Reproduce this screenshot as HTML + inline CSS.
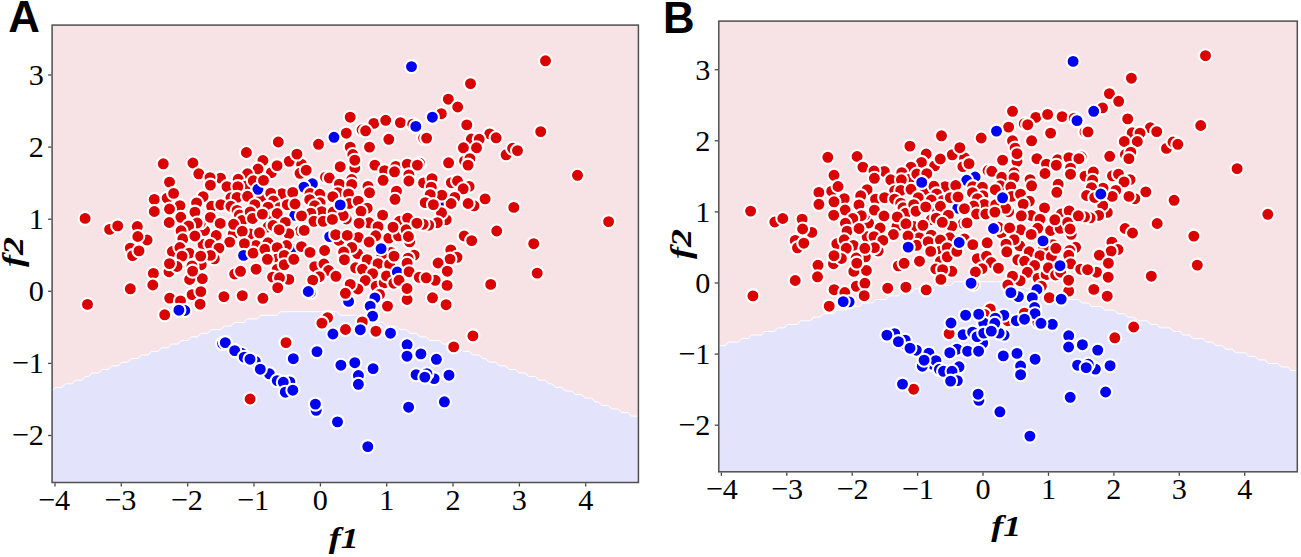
<!DOCTYPE html>
<html><head><meta charset="utf-8"><title>Figure</title>
<style>html,body{margin:0;padding:0;background:#fff}svg{display:block}</style></head>
<body><svg width="1301" height="557" viewBox="0 0 1301 557">
<rect width="1301" height="557" fill="#fff"/>
<clipPath id="cA"><rect x="51.4" y="24.3" width="587.8" height="458.9"/></clipPath>
<g clip-path="url(#cA)">
<rect x="51.4" y="24.3" width="587.8" height="458.9" fill="#f7e3e6"/>
<polygon points="52.2,391.0 55.5,387.4 62.1,387.4 65.4,383.8 72.1,383.8 75.4,380.2 82.0,380.2 85.3,376.6 88.6,376.6 91.9,373.0 98.5,373.0 101.9,369.4 108.5,369.4 111.8,365.8 118.4,365.8 121.7,362.2 128.3,362.2 131.6,358.6 138.3,358.6 141.6,355.0 148.2,355.0 151.5,351.4 158.1,351.4 161.4,347.8 168.1,347.8 171.4,344.1 178.0,344.1 181.3,340.5 187.9,340.5 191.2,336.9 197.8,336.9 201.2,333.3 207.8,333.3 211.1,329.7 221.0,329.7 224.3,326.1 230.9,326.1 234.3,322.5 244.2,322.5 247.5,318.9 257.4,318.9 260.7,315.3 277.3,315.3 280.6,311.7 336.9,311.7 340.2,315.3 356.7,315.3 360.0,318.9 370.0,318.9 373.3,322.5 383.2,322.5 386.5,326.1 396.4,326.1 399.8,329.7 406.4,329.7 409.7,333.3 416.3,333.3 419.6,336.9 426.2,336.9 429.5,340.5 439.5,340.5 442.8,344.1 449.4,344.1 452.7,347.8 459.3,347.8 462.6,351.4 469.3,351.4 472.6,355.0 479.2,355.0 482.5,358.6 485.8,358.6 489.1,362.2 495.7,362.2 499.1,365.8 505.7,365.8 509.0,369.4 515.6,369.4 518.9,373.0 525.5,373.0 528.8,376.6 535.5,376.6 538.8,380.2 545.4,380.2 548.7,383.8 552.0,383.8 555.3,387.4 561.9,387.4 565.2,391.0 571.9,391.0 575.2,394.6 581.8,394.6 585.1,398.2 591.7,398.2 595.0,401.8 598.3,401.8 601.7,405.4 608.3,405.4 611.6,409.0 618.2,409.0 621.5,412.6 628.1,412.6 631.4,416.2 638.1,416.2 641.4,419.9 641.4,483.2 50.2,483.2 50.2,391.0" fill="#e3e3fb"/>
<polyline points="52.2,391.0 55.5,387.4 62.1,387.4 65.4,383.8 72.1,383.8 75.4,380.2 82.0,380.2 85.3,376.6 88.6,376.6 91.9,373.0 98.5,373.0 101.9,369.4 108.5,369.4 111.8,365.8 118.4,365.8 121.7,362.2 128.3,362.2 131.6,358.6 138.3,358.6 141.6,355.0 148.2,355.0 151.5,351.4 158.1,351.4 161.4,347.8 168.1,347.8 171.4,344.1 178.0,344.1 181.3,340.5 187.9,340.5 191.2,336.9 197.8,336.9 201.2,333.3 207.8,333.3 211.1,329.7 221.0,329.7 224.3,326.1 230.9,326.1 234.3,322.5 244.2,322.5 247.5,318.9 257.4,318.9 260.7,315.3 277.3,315.3 280.6,311.7 336.9,311.7 340.2,315.3 356.7,315.3 360.0,318.9 370.0,318.9 373.3,322.5 383.2,322.5 386.5,326.1 396.4,326.1 399.8,329.7 406.4,329.7 409.7,333.3 416.3,333.3 419.6,336.9 426.2,336.9 429.5,340.5 439.5,340.5 442.8,344.1 449.4,344.1 452.7,347.8 459.3,347.8 462.6,351.4 469.3,351.4 472.6,355.0 479.2,355.0 482.5,358.6 485.8,358.6 489.1,362.2 495.7,362.2 499.1,365.8 505.7,365.8 509.0,369.4 515.6,369.4 518.9,373.0 525.5,373.0 528.8,376.6 535.5,376.6 538.8,380.2 545.4,380.2 548.7,383.8 552.0,383.8 555.3,387.4 561.9,387.4 565.2,391.0 571.9,391.0 575.2,394.6 581.8,394.6 585.1,398.2 591.7,398.2 595.0,401.8 598.3,401.8 601.7,405.4 608.3,405.4 611.6,409.0 618.2,409.0 621.5,412.6 628.1,412.6 631.4,416.2 638.1,416.2 641.4,419.9" fill="none" stroke="#fff" stroke-opacity="1" stroke-width="1"/>
<g stroke="#fff" stroke-width="2.1">
<circle cx="440.3" cy="202.1" r="6.5" fill="#0000f2"/>
<circle cx="294.8" cy="215.4" r="6.5" fill="#0000f2"/>
<circle cx="295.1" cy="249.4" r="6.5" fill="#0000f2"/>
<circle cx="411.5" cy="66.6" r="6.5" fill="#0000f2"/>
<circle cx="470.5" cy="83.6" r="6.5" fill="#db0000"/>
<circle cx="448.3" cy="99.2" r="6.5" fill="#db0000"/>
<circle cx="457.7" cy="107.0" r="6.5" fill="#db0000"/>
<circle cx="441.3" cy="113.7" r="6.5" fill="#db0000"/>
<circle cx="432.4" cy="117.2" r="6.5" fill="#0000f2"/>
<circle cx="350.2" cy="117.2" r="6.5" fill="#db0000"/>
<circle cx="373.8" cy="123.4" r="6.5" fill="#db0000"/>
<circle cx="385.7" cy="120.3" r="6.5" fill="#db0000"/>
<circle cx="400.4" cy="122.6" r="6.5" fill="#db0000"/>
<circle cx="412.7" cy="124.2" r="6.5" fill="#db0000"/>
<circle cx="466.8" cy="124.9" r="6.5" fill="#db0000"/>
<circle cx="415.8" cy="126.4" r="6.5" fill="#0000f2"/>
<circle cx="362.1" cy="129.8" r="6.5" fill="#db0000"/>
<circle cx="365.6" cy="130.8" r="6.5" fill="#db0000"/>
<circle cx="346.3" cy="133.2" r="6.5" fill="#db0000"/>
<circle cx="318.5" cy="144.3" r="6.5" fill="#db0000"/>
<circle cx="388.8" cy="139.3" r="6.5" fill="#db0000"/>
<circle cx="423.6" cy="138.1" r="6.5" fill="#db0000"/>
<circle cx="426.6" cy="138.1" r="6.5" fill="#db0000"/>
<circle cx="489.7" cy="133.9" r="6.5" fill="#db0000"/>
<circle cx="496.1" cy="137.8" r="6.5" fill="#db0000"/>
<circle cx="471.4" cy="139.0" r="6.5" fill="#db0000"/>
<circle cx="479.2" cy="139.3" r="6.5" fill="#db0000"/>
<circle cx="350.2" cy="147.1" r="6.5" fill="#db0000"/>
<circle cx="369.5" cy="147.1" r="6.5" fill="#db0000"/>
<circle cx="463.4" cy="147.8" r="6.5" fill="#db0000"/>
<circle cx="476.5" cy="147.8" r="6.5" fill="#db0000"/>
<circle cx="352.8" cy="154.5" r="6.5" fill="#db0000"/>
<circle cx="354.8" cy="167.9" r="6.5" fill="#db0000"/>
<circle cx="354.8" cy="160.2" r="6.5" fill="#db0000"/>
<circle cx="340.2" cy="166.7" r="6.5" fill="#db0000"/>
<circle cx="374.9" cy="165.1" r="6.5" fill="#db0000"/>
<circle cx="384.6" cy="170.7" r="6.5" fill="#db0000"/>
<circle cx="395.8" cy="166.4" r="6.5" fill="#db0000"/>
<circle cx="394.5" cy="171.8" r="6.5" fill="#db0000"/>
<circle cx="407.3" cy="164.1" r="6.5" fill="#db0000"/>
<circle cx="419.7" cy="163.3" r="6.5" fill="#db0000"/>
<circle cx="417.4" cy="165.1" r="6.5" fill="#db0000"/>
<circle cx="448.6" cy="162.8" r="6.5" fill="#db0000"/>
<circle cx="464.5" cy="161.0" r="6.5" fill="#db0000"/>
<circle cx="469.9" cy="158.6" r="6.5" fill="#db0000"/>
<circle cx="468.0" cy="165.1" r="6.5" fill="#db0000"/>
<circle cx="301.5" cy="164.1" r="6.5" fill="#db0000"/>
<circle cx="300.0" cy="173.3" r="6.5" fill="#db0000"/>
<circle cx="306.2" cy="170.2" r="6.5" fill="#db0000"/>
<circle cx="325.5" cy="177.2" r="6.5" fill="#db0000"/>
<circle cx="329.3" cy="178.0" r="6.5" fill="#db0000"/>
<circle cx="339.4" cy="184.1" r="6.5" fill="#db0000"/>
<circle cx="351.7" cy="179.5" r="6.5" fill="#db0000"/>
<circle cx="351.7" cy="184.4" r="6.5" fill="#db0000"/>
<circle cx="368.0" cy="186.4" r="6.5" fill="#db0000"/>
<circle cx="383.1" cy="180.3" r="6.5" fill="#db0000"/>
<circle cx="408.9" cy="174.9" r="6.5" fill="#db0000"/>
<circle cx="408.9" cy="181.0" r="6.5" fill="#db0000"/>
<circle cx="423.6" cy="182.9" r="6.5" fill="#db0000"/>
<circle cx="432.0" cy="178.7" r="6.5" fill="#db0000"/>
<circle cx="431.3" cy="187.2" r="6.5" fill="#db0000"/>
<circle cx="451.4" cy="182.6" r="6.5" fill="#db0000"/>
<circle cx="457.5" cy="181.0" r="6.5" fill="#db0000"/>
<circle cx="469.1" cy="186.4" r="6.5" fill="#db0000"/>
<circle cx="312.4" cy="183.8" r="6.5" fill="#0000f2"/>
<circle cx="303.9" cy="187.2" r="6.5" fill="#0000f2"/>
<circle cx="310.0" cy="193.5" r="6.5" fill="#db0000"/>
<circle cx="319.7" cy="194.3" r="6.5" fill="#db0000"/>
<circle cx="320.1" cy="202.8" r="6.5" fill="#db0000"/>
<circle cx="309.7" cy="199.7" r="6.5" fill="#db0000"/>
<circle cx="314.7" cy="205.8" r="6.5" fill="#db0000"/>
<circle cx="321.6" cy="211.6" r="6.5" fill="#db0000"/>
<circle cx="310.8" cy="213.2" r="6.5" fill="#db0000"/>
<circle cx="301.5" cy="215.9" r="6.5" fill="#db0000"/>
<circle cx="313.9" cy="221.3" r="6.5" fill="#db0000"/>
<circle cx="323.2" cy="221.3" r="6.5" fill="#db0000"/>
<circle cx="337.8" cy="192.7" r="6.5" fill="#db0000"/>
<circle cx="332.8" cy="196.6" r="6.5" fill="#db0000"/>
<circle cx="348.5" cy="193.9" r="6.5" fill="#db0000"/>
<circle cx="349.4" cy="203.5" r="6.5" fill="#db0000"/>
<circle cx="358.3" cy="201.2" r="6.5" fill="#db0000"/>
<circle cx="369.5" cy="192.7" r="6.5" fill="#db0000"/>
<circle cx="396.5" cy="191.2" r="6.5" fill="#db0000"/>
<circle cx="395.0" cy="199.3" r="6.5" fill="#db0000"/>
<circle cx="367.2" cy="208.2" r="6.5" fill="#db0000"/>
<circle cx="361.0" cy="211.3" r="6.5" fill="#db0000"/>
<circle cx="382.6" cy="215.1" r="6.5" fill="#db0000"/>
<circle cx="333.2" cy="212.0" r="6.5" fill="#db0000"/>
<circle cx="346.3" cy="219.0" r="6.5" fill="#db0000"/>
<circle cx="343.2" cy="215.5" r="6.5" fill="#db0000"/>
<circle cx="332.4" cy="219.4" r="6.5" fill="#db0000"/>
<circle cx="369.1" cy="222.8" r="6.5" fill="#db0000"/>
<circle cx="359.1" cy="223.2" r="6.5" fill="#db0000"/>
<circle cx="378.0" cy="226.7" r="6.5" fill="#db0000"/>
<circle cx="399.6" cy="221.3" r="6.5" fill="#db0000"/>
<circle cx="300.4" cy="230.8" r="6.5" fill="#db0000"/>
<circle cx="304.2" cy="230.4" r="6.5" fill="#db0000"/>
<circle cx="301.5" cy="246.6" r="6.5" fill="#db0000"/>
<circle cx="310.0" cy="252.4" r="6.5" fill="#db0000"/>
<circle cx="324.6" cy="250.5" r="6.5" fill="#db0000"/>
<circle cx="314.7" cy="266.7" r="6.5" fill="#db0000"/>
<circle cx="323.9" cy="264.0" r="6.5" fill="#db0000"/>
<circle cx="329.7" cy="236.6" r="6.5" fill="#0000f2"/>
<circle cx="339.0" cy="240.4" r="6.5" fill="#db0000"/>
<circle cx="335.7" cy="234.7" r="6.5" fill="#db0000"/>
<circle cx="358.3" cy="237.4" r="6.5" fill="#db0000"/>
<circle cx="347.3" cy="235.4" r="6.5" fill="#db0000"/>
<circle cx="375.7" cy="235.8" r="6.5" fill="#db0000"/>
<circle cx="369.1" cy="242.0" r="6.5" fill="#db0000"/>
<circle cx="388.8" cy="238.1" r="6.5" fill="#db0000"/>
<circle cx="398.5" cy="235.8" r="6.5" fill="#db0000"/>
<circle cx="357.5" cy="253.6" r="6.5" fill="#db0000"/>
<circle cx="351.7" cy="247.4" r="6.5" fill="#db0000"/>
<circle cx="343.6" cy="252.0" r="6.5" fill="#db0000"/>
<circle cx="344.4" cy="259.7" r="6.5" fill="#db0000"/>
<circle cx="367.2" cy="259.7" r="6.5" fill="#db0000"/>
<circle cx="391.1" cy="252.4" r="6.5" fill="#db0000"/>
<circle cx="381.9" cy="255.9" r="6.5" fill="#db0000"/>
<circle cx="378.0" cy="263.6" r="6.5" fill="#db0000"/>
<circle cx="389.6" cy="264.4" r="6.5" fill="#db0000"/>
<circle cx="328.6" cy="270.5" r="6.5" fill="#db0000"/>
<circle cx="335.9" cy="276.3" r="6.5" fill="#db0000"/>
<circle cx="319.3" cy="276.7" r="6.5" fill="#db0000"/>
<circle cx="312.7" cy="280.1" r="6.5" fill="#db0000"/>
<circle cx="310.5" cy="292.6" r="6.5" fill="#db0000"/>
<circle cx="355.6" cy="267.8" r="6.5" fill="#db0000"/>
<circle cx="362.5" cy="269.3" r="6.5" fill="#db0000"/>
<circle cx="372.6" cy="273.6" r="6.5" fill="#db0000"/>
<circle cx="365.3" cy="280.5" r="6.5" fill="#db0000"/>
<circle cx="357.9" cy="289.0" r="6.5" fill="#db0000"/>
<circle cx="350.2" cy="284.4" r="6.5" fill="#db0000"/>
<circle cx="348.6" cy="301.4" r="6.5" fill="#0000f2"/>
<circle cx="345.4" cy="293.3" r="6.5" fill="#db0000"/>
<circle cx="376.1" cy="286.3" r="6.5" fill="#db0000"/>
<circle cx="384.2" cy="282.8" r="6.5" fill="#db0000"/>
<circle cx="386.5" cy="275.9" r="6.5" fill="#db0000"/>
<circle cx="397.3" cy="272.0" r="6.5" fill="#0000f2"/>
<circle cx="393.8" cy="283.2" r="6.5" fill="#db0000"/>
<circle cx="379.5" cy="294.4" r="6.5" fill="#db0000"/>
<circle cx="374.9" cy="297.9" r="6.5" fill="#0000f2"/>
<circle cx="370.2" cy="306.1" r="6.5" fill="#0000f2"/>
<circle cx="387.5" cy="306.1" r="6.5" fill="#db0000"/>
<circle cx="407.1" cy="299.5" r="6.5" fill="#db0000"/>
<circle cx="372.6" cy="316.1" r="6.5" fill="#0000f2"/>
<circle cx="327.6" cy="317.6" r="6.5" fill="#db0000"/>
<circle cx="321.9" cy="323.1" r="6.5" fill="#db0000"/>
<circle cx="362.3" cy="321.9" r="6.5" fill="#db0000"/>
<circle cx="360.3" cy="329.7" r="6.5" fill="#0000f2"/>
<circle cx="345.5" cy="329.5" r="6.5" fill="#db0000"/>
<circle cx="332.9" cy="334.0" r="6.5" fill="#0000f2"/>
<circle cx="375.9" cy="331.2" r="6.5" fill="#db0000"/>
<circle cx="390.5" cy="333.2" r="6.5" fill="#0000f2"/>
<circle cx="407.1" cy="344.8" r="6.5" fill="#0000f2"/>
<circle cx="317.0" cy="351.6" r="6.5" fill="#0000f2"/>
<circle cx="340.9" cy="365.2" r="6.5" fill="#0000f2"/>
<circle cx="354.8" cy="362.7" r="6.5" fill="#0000f2"/>
<circle cx="358.4" cy="375.5" r="6.5" fill="#0000f2"/>
<circle cx="358.4" cy="384.3" r="6.5" fill="#0000f2"/>
<circle cx="373.1" cy="368.6" r="6.5" fill="#0000f2"/>
<circle cx="407.0" cy="356.2" r="6.5" fill="#0000f2"/>
<circle cx="420.9" cy="353.9" r="6.5" fill="#0000f2"/>
<circle cx="436.4" cy="359.3" r="6.5" fill="#0000f2"/>
<circle cx="416.1" cy="374.7" r="6.5" fill="#0000f2"/>
<circle cx="434.1" cy="378.6" r="6.5" fill="#0000f2"/>
<circle cx="426.9" cy="373.7" r="6.5" fill="#0000f2"/>
<circle cx="424.8" cy="377.1" r="6.5" fill="#0000f2"/>
<circle cx="449.0" cy="375.2" r="6.5" fill="#0000f2"/>
<circle cx="453.7" cy="346.9" r="6.5" fill="#db0000"/>
<circle cx="444.4" cy="401.8" r="6.5" fill="#0000f2"/>
<circle cx="408.6" cy="407.2" r="6.5" fill="#0000f2"/>
<circle cx="316.2" cy="410.3" r="6.5" fill="#0000f2"/>
<circle cx="315.4" cy="404.1" r="6.5" fill="#0000f2"/>
<circle cx="337.5" cy="421.9" r="6.5" fill="#0000f2"/>
<circle cx="367.8" cy="446.6" r="6.5" fill="#0000f2"/>
<circle cx="545.5" cy="60.8" r="6.5" fill="#db0000"/>
<circle cx="540.7" cy="131.6" r="6.5" fill="#db0000"/>
<circle cx="506.1" cy="154.8" r="6.5" fill="#db0000"/>
<circle cx="512.6" cy="148.3" r="6.5" fill="#db0000"/>
<circle cx="517.5" cy="150.6" r="6.5" fill="#db0000"/>
<circle cx="577.5" cy="175.3" r="6.5" fill="#db0000"/>
<circle cx="463.2" cy="188.8" r="6.5" fill="#db0000"/>
<circle cx="485.1" cy="198.9" r="6.5" fill="#db0000"/>
<circle cx="454.7" cy="197.4" r="6.5" fill="#db0000"/>
<circle cx="451.1" cy="203.5" r="6.5" fill="#db0000"/>
<circle cx="474.0" cy="205.8" r="6.5" fill="#db0000"/>
<circle cx="468.1" cy="203.5" r="6.5" fill="#db0000"/>
<circle cx="446.2" cy="219.7" r="6.5" fill="#db0000"/>
<circle cx="441.5" cy="212.8" r="6.5" fill="#db0000"/>
<circle cx="513.8" cy="207.4" r="6.5" fill="#db0000"/>
<circle cx="608.6" cy="221.6" r="6.5" fill="#db0000"/>
<circle cx="496.7" cy="231.0" r="6.5" fill="#db0000"/>
<circle cx="464.2" cy="236.0" r="6.5" fill="#db0000"/>
<circle cx="471.7" cy="240.6" r="6.5" fill="#db0000"/>
<circle cx="533.7" cy="243.7" r="6.5" fill="#db0000"/>
<circle cx="450.8" cy="249.9" r="6.5" fill="#db0000"/>
<circle cx="457.0" cy="257.3" r="6.5" fill="#db0000"/>
<circle cx="450.0" cy="259.1" r="6.5" fill="#db0000"/>
<circle cx="441.8" cy="195.1" r="6.5" fill="#db0000"/>
<circle cx="430.2" cy="194.6" r="6.5" fill="#db0000"/>
<circle cx="425.2" cy="202.6" r="6.5" fill="#db0000"/>
<circle cx="433.4" cy="204.6" r="6.5" fill="#db0000"/>
<circle cx="437.3" cy="222.7" r="6.5" fill="#db0000"/>
<circle cx="393.0" cy="227.2" r="6.5" fill="#db0000"/>
<circle cx="407.6" cy="218.2" r="6.5" fill="#db0000"/>
<circle cx="406.1" cy="229.8" r="6.5" fill="#db0000"/>
<circle cx="428.7" cy="225.2" r="6.5" fill="#db0000"/>
<circle cx="423.2" cy="224.2" r="6.5" fill="#db0000"/>
<circle cx="416.9" cy="223.2" r="6.5" fill="#db0000"/>
<circle cx="409.6" cy="241.9" r="6.5" fill="#db0000"/>
<circle cx="408.4" cy="236.5" r="6.5" fill="#db0000"/>
<circle cx="394.0" cy="256.1" r="6.5" fill="#db0000"/>
<circle cx="414.1" cy="255.1" r="6.5" fill="#db0000"/>
<circle cx="408.1" cy="258.2" r="6.5" fill="#db0000"/>
<circle cx="407.1" cy="263.2" r="6.5" fill="#db0000"/>
<circle cx="409.1" cy="271.7" r="6.5" fill="#db0000"/>
<circle cx="438.1" cy="263.0" r="6.5" fill="#db0000"/>
<circle cx="447.3" cy="271.2" r="6.5" fill="#db0000"/>
<circle cx="419.2" cy="277.3" r="6.5" fill="#db0000"/>
<circle cx="435.2" cy="280.3" r="6.5" fill="#db0000"/>
<circle cx="426.2" cy="277.8" r="6.5" fill="#db0000"/>
<circle cx="399.0" cy="280.3" r="6.5" fill="#db0000"/>
<circle cx="537.2" cy="273.1" r="6.5" fill="#db0000"/>
<circle cx="407.0" cy="288.5" r="6.5" fill="#db0000"/>
<circle cx="447.1" cy="285.4" r="6.5" fill="#db0000"/>
<circle cx="490.7" cy="284.4" r="6.5" fill="#db0000"/>
<circle cx="432.5" cy="297.8" r="6.5" fill="#db0000"/>
<circle cx="446.1" cy="304.7" r="6.5" fill="#db0000"/>
<circle cx="472.9" cy="335.9" r="6.5" fill="#db0000"/>
<circle cx="278.3" cy="142.0" r="6.5" fill="#db0000"/>
<circle cx="246.4" cy="152.5" r="6.5" fill="#db0000"/>
<circle cx="289.2" cy="161.3" r="6.5" fill="#db0000"/>
<circle cx="296.9" cy="154.1" r="6.5" fill="#db0000"/>
<circle cx="262.9" cy="160.5" r="6.5" fill="#db0000"/>
<circle cx="258.0" cy="169.0" r="6.5" fill="#db0000"/>
<circle cx="271.4" cy="172.6" r="6.5" fill="#db0000"/>
<circle cx="277.1" cy="165.6" r="6.5" fill="#db0000"/>
<circle cx="163.3" cy="163.8" r="6.5" fill="#db0000"/>
<circle cx="192.9" cy="163.0" r="6.5" fill="#db0000"/>
<circle cx="198.8" cy="173.8" r="6.5" fill="#db0000"/>
<circle cx="247.5" cy="173.8" r="6.5" fill="#db0000"/>
<circle cx="220.5" cy="178.1" r="6.5" fill="#db0000"/>
<circle cx="210.0" cy="177.7" r="6.5" fill="#db0000"/>
<circle cx="210.4" cy="185.1" r="6.5" fill="#db0000"/>
<circle cx="227.0" cy="186.6" r="6.5" fill="#db0000"/>
<circle cx="238.2" cy="179.3" r="6.5" fill="#db0000"/>
<circle cx="245.6" cy="186.2" r="6.5" fill="#db0000"/>
<circle cx="237.8" cy="186.6" r="6.5" fill="#db0000"/>
<circle cx="253.3" cy="180.8" r="6.5" fill="#db0000"/>
<circle cx="261.8" cy="197.0" r="6.5" fill="#db0000"/>
<circle cx="257.9" cy="189.3" r="6.5" fill="#0000f2"/>
<circle cx="263.5" cy="180.4" r="6.5" fill="#db0000"/>
<circle cx="281.9" cy="193.6" r="6.5" fill="#db0000"/>
<circle cx="270.7" cy="193.2" r="6.5" fill="#db0000"/>
<circle cx="292.7" cy="192.4" r="6.5" fill="#db0000"/>
<circle cx="203.1" cy="196.6" r="6.5" fill="#db0000"/>
<circle cx="230.9" cy="197.8" r="6.5" fill="#db0000"/>
<circle cx="237.1" cy="197.4" r="6.5" fill="#db0000"/>
<circle cx="247.5" cy="196.3" r="6.5" fill="#db0000"/>
<circle cx="273.4" cy="200.9" r="6.5" fill="#db0000"/>
<circle cx="211.6" cy="206.3" r="6.5" fill="#db0000"/>
<circle cx="220.8" cy="204.7" r="6.5" fill="#db0000"/>
<circle cx="254.8" cy="204.7" r="6.5" fill="#db0000"/>
<circle cx="279.5" cy="207.8" r="6.5" fill="#db0000"/>
<circle cx="268.0" cy="207.1" r="6.5" fill="#db0000"/>
<circle cx="287.3" cy="204.7" r="6.5" fill="#db0000"/>
<circle cx="295.0" cy="204.0" r="6.5" fill="#db0000"/>
<circle cx="230.9" cy="206.3" r="6.5" fill="#db0000"/>
<circle cx="237.1" cy="210.4" r="6.5" fill="#db0000"/>
<circle cx="239.4" cy="215.0" r="6.5" fill="#db0000"/>
<circle cx="242.1" cy="220.4" r="6.5" fill="#db0000"/>
<circle cx="250.2" cy="211.9" r="6.5" fill="#db0000"/>
<circle cx="252.5" cy="218.5" r="6.5" fill="#db0000"/>
<circle cx="273.0" cy="215.8" r="6.5" fill="#db0000"/>
<circle cx="277.2" cy="213.5" r="6.5" fill="#db0000"/>
<circle cx="268.0" cy="227.0" r="6.5" fill="#db0000"/>
<circle cx="273.0" cy="225.5" r="6.5" fill="#db0000"/>
<circle cx="285.3" cy="222.4" r="6.5" fill="#db0000"/>
<circle cx="204.6" cy="230.5" r="6.5" fill="#db0000"/>
<circle cx="200.4" cy="222.8" r="6.5" fill="#db0000"/>
<circle cx="233.2" cy="234.0" r="6.5" fill="#db0000"/>
<circle cx="250.2" cy="234.0" r="6.5" fill="#db0000"/>
<circle cx="288.8" cy="233.6" r="6.5" fill="#db0000"/>
<circle cx="229.7" cy="242.1" r="6.5" fill="#db0000"/>
<circle cx="256.0" cy="245.5" r="6.5" fill="#db0000"/>
<circle cx="210.4" cy="217.4" r="6.5" fill="#db0000"/>
<circle cx="220.2" cy="223.4" r="6.5" fill="#db0000"/>
<circle cx="216.2" cy="235.5" r="6.5" fill="#db0000"/>
<circle cx="233.6" cy="224.3" r="6.5" fill="#db0000"/>
<circle cx="242.3" cy="231.3" r="6.5" fill="#db0000"/>
<circle cx="262.4" cy="214.1" r="6.5" fill="#db0000"/>
<circle cx="259.5" cy="232.8" r="6.5" fill="#db0000"/>
<circle cx="279.2" cy="229.7" r="6.5" fill="#db0000"/>
<circle cx="268.0" cy="242.8" r="6.5" fill="#db0000"/>
<circle cx="244.4" cy="243.6" r="6.5" fill="#db0000"/>
<circle cx="286.5" cy="245.5" r="6.5" fill="#db0000"/>
<circle cx="203.1" cy="244.4" r="6.5" fill="#db0000"/>
<circle cx="210.0" cy="244.2" r="6.5" fill="#db0000"/>
<circle cx="218.9" cy="248.1" r="6.5" fill="#db0000"/>
<circle cx="214.3" cy="258.9" r="6.5" fill="#db0000"/>
<circle cx="210.4" cy="255.4" r="6.5" fill="#db0000"/>
<circle cx="201.2" cy="264.7" r="6.5" fill="#db0000"/>
<circle cx="202.3" cy="278.6" r="6.5" fill="#db0000"/>
<circle cx="243.6" cy="255.4" r="6.5" fill="#0000f2"/>
<circle cx="253.1" cy="253.1" r="6.5" fill="#db0000"/>
<circle cx="264.9" cy="249.3" r="6.5" fill="#db0000"/>
<circle cx="277.2" cy="247.7" r="6.5" fill="#db0000"/>
<circle cx="276.4" cy="259.3" r="6.5" fill="#db0000"/>
<circle cx="284.2" cy="255.4" r="6.5" fill="#db0000"/>
<circle cx="267.4" cy="259.3" r="6.5" fill="#db0000"/>
<circle cx="234.7" cy="274.0" r="6.5" fill="#db0000"/>
<circle cx="240.5" cy="271.3" r="6.5" fill="#db0000"/>
<circle cx="256.1" cy="269.2" r="6.5" fill="#db0000"/>
<circle cx="277.2" cy="269.3" r="6.5" fill="#db0000"/>
<circle cx="284.2" cy="264.7" r="6.5" fill="#db0000"/>
<circle cx="293.8" cy="259.3" r="6.5" fill="#db0000"/>
<circle cx="272.6" cy="277.1" r="6.5" fill="#db0000"/>
<circle cx="288.8" cy="279.4" r="6.5" fill="#db0000"/>
<circle cx="279.5" cy="277.8" r="6.5" fill="#db0000"/>
<circle cx="189.6" cy="279.5" r="6.5" fill="#db0000"/>
<circle cx="192.1" cy="294.6" r="6.5" fill="#db0000"/>
<circle cx="200.8" cy="291.6" r="6.5" fill="#db0000"/>
<circle cx="200.1" cy="304.2" r="6.5" fill="#db0000"/>
<circle cx="223.9" cy="296.6" r="6.5" fill="#db0000"/>
<circle cx="242.3" cy="295.6" r="6.5" fill="#db0000"/>
<circle cx="262.9" cy="298.3" r="6.5" fill="#db0000"/>
<circle cx="277.7" cy="287.6" r="6.5" fill="#db0000"/>
<circle cx="85.1" cy="218.4" r="6.5" fill="#db0000"/>
<circle cx="109.6" cy="229.4" r="6.5" fill="#db0000"/>
<circle cx="117.7" cy="225.9" r="6.5" fill="#db0000"/>
<circle cx="137.3" cy="226.5" r="6.5" fill="#db0000"/>
<circle cx="154.3" cy="199.4" r="6.5" fill="#db0000"/>
<circle cx="154.3" cy="211.5" r="6.5" fill="#db0000"/>
<circle cx="169.5" cy="182.1" r="6.5" fill="#db0000"/>
<circle cx="167.2" cy="198.2" r="6.5" fill="#db0000"/>
<circle cx="173.6" cy="193.4" r="6.5" fill="#db0000"/>
<circle cx="179.9" cy="205.7" r="6.5" fill="#db0000"/>
<circle cx="169.5" cy="209.0" r="6.5" fill="#db0000"/>
<circle cx="180.8" cy="217.3" r="6.5" fill="#db0000"/>
<circle cx="169.2" cy="222.5" r="6.5" fill="#db0000"/>
<circle cx="196.6" cy="202.9" r="6.5" fill="#db0000"/>
<circle cx="194.9" cy="212.1" r="6.5" fill="#db0000"/>
<circle cx="197.2" cy="223.0" r="6.5" fill="#db0000"/>
<circle cx="188.6" cy="225.9" r="6.5" fill="#db0000"/>
<circle cx="147.1" cy="240.0" r="6.5" fill="#db0000"/>
<circle cx="137.8" cy="236.5" r="6.5" fill="#db0000"/>
<circle cx="130.3" cy="248.1" r="6.5" fill="#db0000"/>
<circle cx="132.6" cy="255.6" r="6.5" fill="#db0000"/>
<circle cx="139.0" cy="250.9" r="6.5" fill="#db0000"/>
<circle cx="181.1" cy="230.8" r="6.5" fill="#db0000"/>
<circle cx="182.8" cy="238.8" r="6.5" fill="#db0000"/>
<circle cx="194.9" cy="236.0" r="6.5" fill="#db0000"/>
<circle cx="172.4" cy="251.5" r="6.5" fill="#db0000"/>
<circle cx="179.9" cy="247.5" r="6.5" fill="#db0000"/>
<circle cx="189.1" cy="253.2" r="6.5" fill="#db0000"/>
<circle cx="182.0" cy="256.1" r="6.5" fill="#db0000"/>
<circle cx="169.0" cy="271.7" r="6.5" fill="#db0000"/>
<circle cx="177.0" cy="266.5" r="6.5" fill="#db0000"/>
<circle cx="169.5" cy="263.6" r="6.5" fill="#db0000"/>
<circle cx="192.0" cy="265.9" r="6.5" fill="#db0000"/>
<circle cx="192.6" cy="271.1" r="6.5" fill="#db0000"/>
<circle cx="200.7" cy="256.1" r="6.5" fill="#db0000"/>
<circle cx="153.4" cy="273.4" r="6.5" fill="#db0000"/>
<circle cx="152.8" cy="285.0" r="6.5" fill="#db0000"/>
<circle cx="87.5" cy="304.4" r="6.5" fill="#db0000"/>
<circle cx="130.3" cy="288.8" r="6.5" fill="#db0000"/>
<circle cx="169.7" cy="298.1" r="6.5" fill="#db0000"/>
<circle cx="180.5" cy="300.9" r="6.5" fill="#db0000"/>
<circle cx="184.8" cy="310.5" r="6.5" fill="#0000f2"/>
<circle cx="178.9" cy="310.2" r="6.5" fill="#0000f2"/>
<circle cx="164.7" cy="314.8" r="6.5" fill="#db0000"/>
<circle cx="222.6" cy="343.6" r="6.5" fill="#0000f2"/>
<circle cx="225.3" cy="342.6" r="6.5" fill="#0000f2"/>
<circle cx="241.4" cy="353.2" r="6.5" fill="#0000f2"/>
<circle cx="234.7" cy="350.6" r="6.5" fill="#0000f2"/>
<circle cx="244.2" cy="357.2" r="6.5" fill="#0000f2"/>
<circle cx="255.3" cy="361.4" r="6.5" fill="#0000f2"/>
<circle cx="250.0" cy="359.2" r="6.5" fill="#0000f2"/>
<circle cx="269.4" cy="373.8" r="6.5" fill="#0000f2"/>
<circle cx="260.3" cy="369.2" r="6.5" fill="#0000f2"/>
<circle cx="286.0" cy="342.6" r="6.5" fill="#db0000"/>
<circle cx="293.3" cy="358.7" r="6.5" fill="#0000f2"/>
<circle cx="277.3" cy="380.6" r="6.5" fill="#0000f2"/>
<circle cx="289.8" cy="381.9" r="6.5" fill="#0000f2"/>
<circle cx="283.3" cy="382.3" r="6.5" fill="#0000f2"/>
<circle cx="285.3" cy="392.2" r="6.5" fill="#0000f2"/>
<circle cx="292.8" cy="390.2" r="6.5" fill="#0000f2"/>
<circle cx="250.1" cy="399.0" r="6.5" fill="#db0000"/>
<circle cx="334.0" cy="137.3" r="6.5" fill="#0000f2"/>
<circle cx="340.2" cy="204.9" r="6.5" fill="#0000f2"/>
<circle cx="381.1" cy="248.6" r="6.5" fill="#0000f2"/>
<circle cx="308.3" cy="291.5" r="6.5" fill="#0000f2"/>
</g></g>
<rect x="52.1" y="25.1" width="586.3" height="457.4" fill="none" stroke="#505050" stroke-width="1.5"/>
<g stroke="#444" stroke-width="1.3">
<line x1="55.0" y1="483.2" x2="55.0" y2="486.5"/>
<line x1="121.3" y1="483.2" x2="121.3" y2="486.5"/>
<line x1="187.7" y1="483.2" x2="187.7" y2="486.5"/>
<line x1="254.0" y1="483.2" x2="254.0" y2="486.5"/>
<line x1="320.4" y1="483.2" x2="320.4" y2="486.5"/>
<line x1="386.7" y1="483.2" x2="386.7" y2="486.5"/>
<line x1="453.0" y1="483.2" x2="453.0" y2="486.5"/>
<line x1="519.4" y1="483.2" x2="519.4" y2="486.5"/>
<line x1="585.7" y1="483.2" x2="585.7" y2="486.5"/>
<line x1="48.1" y1="435.5" x2="51.4" y2="435.5"/>
<line x1="48.1" y1="363.4" x2="51.4" y2="363.4"/>
<line x1="48.1" y1="291.3" x2="51.4" y2="291.3"/>
<line x1="48.1" y1="219.2" x2="51.4" y2="219.2"/>
<line x1="48.1" y1="147.1" x2="51.4" y2="147.1"/>
<line x1="48.1" y1="75.0" x2="51.4" y2="75.0"/>
</g>
<g font-family="'Liberation Serif',serif" font-size="30.2" fill="#000">
<text x="54.0" y="510.2" text-anchor="middle">−4</text>
<text x="120.3" y="510.2" text-anchor="middle">−3</text>
<text x="186.7" y="510.2" text-anchor="middle">−2</text>
<text x="253.0" y="510.2" text-anchor="middle">−1</text>
<text x="320.4" y="510.2" text-anchor="middle">0</text>
<text x="386.7" y="510.2" text-anchor="middle">1</text>
<text x="453.0" y="510.2" text-anchor="middle">2</text>
<text x="519.4" y="510.2" text-anchor="middle">3</text>
<text x="585.7" y="510.2" text-anchor="middle">4</text>
<text x="43.8" y="445.3" text-anchor="end">−2</text>
<text x="43.8" y="373.2" text-anchor="end">−1</text>
<text x="43.8" y="301.1" text-anchor="end">0</text>
<text x="43.8" y="229.0" text-anchor="end">1</text>
<text x="43.8" y="156.9" text-anchor="end">2</text>
<text x="43.8" y="84.8" text-anchor="end">3</text>
</g>
<g font-family="'Liberation Serif',serif" font-size="30.5" font-weight="bold" font-style="italic" fill="#000">
<text transform="translate(343.7,548.0) scale(1.18,1)" text-anchor="middle">f1</text>
<text transform="translate(23.3,251.9) rotate(-90) scale(1.18,1)" text-anchor="middle">f2</text>
</g>
<text x="8.3" y="32.4" font-family="'Liberation Sans',sans-serif" font-size="43.8" font-weight="bold" fill="#000">A</text>
<clipPath id="cB"><rect x="718.0" y="20.3" width="580.0" height="452.2"/></clipPath>
<g clip-path="url(#cB)">
<rect x="718.0" y="20.3" width="580.0" height="452.2" fill="#f7e3e6"/>
<polygon points="718.8,345.7 725.3,345.7 728.6,342.1 738.4,342.1 741.7,338.6 748.2,338.6 751.5,335.0 761.3,335.0 764.6,331.5 774.4,331.5 777.7,327.9 784.2,327.9 787.5,324.4 797.3,324.4 800.6,320.8 810.4,320.8 813.6,317.2 820.2,317.2 823.5,313.7 833.3,313.7 836.5,310.1 846.3,310.1 849.6,306.6 859.4,306.6 862.7,303.0 872.5,303.0 875.8,299.5 885.6,299.5 888.9,295.9 898.7,295.9 901.9,292.4 911.8,292.4 915.0,288.8 931.4,288.8 934.7,285.3 951.0,285.3 954.3,281.7 1003.3,281.7 1006.6,285.3 1023.0,285.3 1026.2,288.8 1039.3,288.8 1042.6,292.4 1052.4,292.4 1055.7,295.9 1065.5,295.9 1068.7,299.5 1078.6,299.5 1081.8,303.0 1088.4,303.0 1091.6,306.6 1101.4,306.6 1104.7,310.1 1114.5,310.1 1117.8,313.7 1124.3,313.7 1127.6,317.2 1134.2,317.2 1137.4,320.8 1147.2,320.8 1150.5,324.4 1157.0,324.4 1160.3,327.9 1170.1,327.9 1173.4,331.5 1179.9,331.5 1183.2,335.0 1189.8,335.0 1193.0,338.6 1202.8,338.6 1206.1,342.1 1212.6,342.1 1215.9,345.7 1222.5,345.7 1225.7,349.2 1232.3,349.2 1235.5,352.8 1245.4,352.8 1248.6,356.4 1255.2,356.4 1258.4,359.9 1265.0,359.9 1268.2,363.5 1278.1,363.5 1281.3,367.0 1287.9,367.0 1291.1,370.6 1297.7,370.6 1300.9,374.1 1300.9,472.5 716.8,472.5 716.8,345.7" fill="#e3e3fb"/>
<polyline points="718.8,345.7 725.3,345.7 728.6,342.1 738.4,342.1 741.7,338.6 748.2,338.6 751.5,335.0 761.3,335.0 764.6,331.5 774.4,331.5 777.7,327.9 784.2,327.9 787.5,324.4 797.3,324.4 800.6,320.8 810.4,320.8 813.6,317.2 820.2,317.2 823.5,313.7 833.3,313.7 836.5,310.1 846.3,310.1 849.6,306.6 859.4,306.6 862.7,303.0 872.5,303.0 875.8,299.5 885.6,299.5 888.9,295.9 898.7,295.9 901.9,292.4 911.8,292.4 915.0,288.8 931.4,288.8 934.7,285.3 951.0,285.3 954.3,281.7 1003.3,281.7 1006.6,285.3 1023.0,285.3 1026.2,288.8 1039.3,288.8 1042.6,292.4 1052.4,292.4 1055.7,295.9 1065.5,295.9 1068.7,299.5 1078.6,299.5 1081.8,303.0 1088.4,303.0 1091.6,306.6 1101.4,306.6 1104.7,310.1 1114.5,310.1 1117.8,313.7 1124.3,313.7 1127.6,317.2 1134.2,317.2 1137.4,320.8 1147.2,320.8 1150.5,324.4 1157.0,324.4 1160.3,327.9 1170.1,327.9 1173.4,331.5 1179.9,331.5 1183.2,335.0 1189.8,335.0 1193.0,338.6 1202.8,338.6 1206.1,342.1 1212.6,342.1 1215.9,345.7 1222.5,345.7 1225.7,349.2 1232.3,349.2 1235.5,352.8 1245.4,352.8 1248.6,356.4 1255.2,356.4 1258.4,359.9 1265.0,359.9 1268.2,363.5 1278.1,363.5 1281.3,367.0 1287.9,367.0 1291.1,370.6 1297.7,370.6 1300.9,374.1" fill="none" stroke="#fff" stroke-opacity="1" stroke-width="1"/>
<g stroke="#fff" stroke-width="2.1">
<circle cx="957.8" cy="208.2" r="6.5" fill="#0000f2"/>
<circle cx="1073.1" cy="61.4" r="6.5" fill="#0000f2"/>
<circle cx="1131.4" cy="78.2" r="6.5" fill="#db0000"/>
<circle cx="1109.4" cy="93.6" r="6.5" fill="#db0000"/>
<circle cx="1118.7" cy="101.3" r="6.5" fill="#db0000"/>
<circle cx="1102.5" cy="107.9" r="6.5" fill="#db0000"/>
<circle cx="1093.7" cy="111.3" r="6.5" fill="#0000f2"/>
<circle cx="1012.5" cy="111.3" r="6.5" fill="#db0000"/>
<circle cx="1035.8" cy="117.4" r="6.5" fill="#db0000"/>
<circle cx="1047.6" cy="114.4" r="6.5" fill="#db0000"/>
<circle cx="1062.1" cy="116.6" r="6.5" fill="#db0000"/>
<circle cx="1074.2" cy="118.2" r="6.5" fill="#db0000"/>
<circle cx="1127.7" cy="118.9" r="6.5" fill="#db0000"/>
<circle cx="1024.3" cy="123.7" r="6.5" fill="#db0000"/>
<circle cx="1027.7" cy="124.7" r="6.5" fill="#db0000"/>
<circle cx="1008.6" cy="127.1" r="6.5" fill="#db0000"/>
<circle cx="981.2" cy="138.0" r="6.5" fill="#db0000"/>
<circle cx="1050.6" cy="133.1" r="6.5" fill="#db0000"/>
<circle cx="1085.0" cy="131.9" r="6.5" fill="#db0000"/>
<circle cx="1088.0" cy="131.9" r="6.5" fill="#db0000"/>
<circle cx="1150.3" cy="127.8" r="6.5" fill="#db0000"/>
<circle cx="1156.7" cy="131.6" r="6.5" fill="#db0000"/>
<circle cx="1132.2" cy="132.8" r="6.5" fill="#db0000"/>
<circle cx="1140.0" cy="133.1" r="6.5" fill="#db0000"/>
<circle cx="1012.5" cy="140.8" r="6.5" fill="#db0000"/>
<circle cx="1031.6" cy="140.8" r="6.5" fill="#db0000"/>
<circle cx="1124.3" cy="141.5" r="6.5" fill="#db0000"/>
<circle cx="1137.3" cy="141.5" r="6.5" fill="#db0000"/>
<circle cx="1015.1" cy="148.1" r="6.5" fill="#db0000"/>
<circle cx="1017.0" cy="161.3" r="6.5" fill="#db0000"/>
<circle cx="1017.0" cy="153.7" r="6.5" fill="#db0000"/>
<circle cx="1002.6" cy="160.1" r="6.5" fill="#db0000"/>
<circle cx="1036.9" cy="158.6" r="6.5" fill="#db0000"/>
<circle cx="1046.5" cy="164.1" r="6.5" fill="#db0000"/>
<circle cx="1057.6" cy="159.8" r="6.5" fill="#db0000"/>
<circle cx="1056.3" cy="165.2" r="6.5" fill="#db0000"/>
<circle cx="1068.9" cy="157.6" r="6.5" fill="#db0000"/>
<circle cx="1081.2" cy="156.8" r="6.5" fill="#db0000"/>
<circle cx="1078.9" cy="158.6" r="6.5" fill="#db0000"/>
<circle cx="1109.7" cy="156.3" r="6.5" fill="#db0000"/>
<circle cx="1125.4" cy="154.5" r="6.5" fill="#db0000"/>
<circle cx="1130.8" cy="152.1" r="6.5" fill="#db0000"/>
<circle cx="1128.9" cy="158.6" r="6.5" fill="#db0000"/>
<circle cx="964.4" cy="157.6" r="6.5" fill="#db0000"/>
<circle cx="962.9" cy="166.6" r="6.5" fill="#db0000"/>
<circle cx="969.0" cy="163.6" r="6.5" fill="#db0000"/>
<circle cx="988.1" cy="170.5" r="6.5" fill="#db0000"/>
<circle cx="991.8" cy="171.3" r="6.5" fill="#db0000"/>
<circle cx="1001.8" cy="177.3" r="6.5" fill="#db0000"/>
<circle cx="1014.0" cy="172.8" r="6.5" fill="#db0000"/>
<circle cx="1014.0" cy="177.6" r="6.5" fill="#db0000"/>
<circle cx="1030.1" cy="179.6" r="6.5" fill="#db0000"/>
<circle cx="1045.0" cy="173.5" r="6.5" fill="#db0000"/>
<circle cx="1070.5" cy="168.2" r="6.5" fill="#db0000"/>
<circle cx="1070.5" cy="174.2" r="6.5" fill="#db0000"/>
<circle cx="1085.0" cy="176.1" r="6.5" fill="#db0000"/>
<circle cx="1093.3" cy="172.0" r="6.5" fill="#db0000"/>
<circle cx="1092.6" cy="180.3" r="6.5" fill="#db0000"/>
<circle cx="1112.5" cy="175.8" r="6.5" fill="#db0000"/>
<circle cx="1118.5" cy="174.2" r="6.5" fill="#db0000"/>
<circle cx="1130.0" cy="179.6" r="6.5" fill="#db0000"/>
<circle cx="975.1" cy="177.0" r="6.5" fill="#0000f2"/>
<circle cx="966.7" cy="180.3" r="6.5" fill="#0000f2"/>
<circle cx="972.8" cy="186.6" r="6.5" fill="#db0000"/>
<circle cx="982.4" cy="187.3" r="6.5" fill="#db0000"/>
<circle cx="982.8" cy="195.7" r="6.5" fill="#db0000"/>
<circle cx="972.5" cy="192.7" r="6.5" fill="#db0000"/>
<circle cx="977.4" cy="198.7" r="6.5" fill="#db0000"/>
<circle cx="984.2" cy="204.4" r="6.5" fill="#db0000"/>
<circle cx="973.6" cy="206.0" r="6.5" fill="#db0000"/>
<circle cx="964.4" cy="208.6" r="6.5" fill="#db0000"/>
<circle cx="976.6" cy="214.0" r="6.5" fill="#db0000"/>
<circle cx="985.8" cy="214.0" r="6.5" fill="#db0000"/>
<circle cx="1000.2" cy="185.8" r="6.5" fill="#db0000"/>
<circle cx="995.3" cy="189.6" r="6.5" fill="#db0000"/>
<circle cx="1010.8" cy="187.0" r="6.5" fill="#db0000"/>
<circle cx="1011.7" cy="196.4" r="6.5" fill="#db0000"/>
<circle cx="1020.5" cy="194.1" r="6.5" fill="#db0000"/>
<circle cx="1031.6" cy="185.8" r="6.5" fill="#db0000"/>
<circle cx="1058.2" cy="184.3" r="6.5" fill="#db0000"/>
<circle cx="1056.8" cy="192.3" r="6.5" fill="#db0000"/>
<circle cx="1029.3" cy="201.1" r="6.5" fill="#db0000"/>
<circle cx="1023.2" cy="204.1" r="6.5" fill="#db0000"/>
<circle cx="1044.5" cy="207.9" r="6.5" fill="#db0000"/>
<circle cx="995.7" cy="204.8" r="6.5" fill="#db0000"/>
<circle cx="1008.6" cy="211.7" r="6.5" fill="#db0000"/>
<circle cx="1005.6" cy="208.3" r="6.5" fill="#db0000"/>
<circle cx="994.9" cy="212.1" r="6.5" fill="#db0000"/>
<circle cx="1031.2" cy="215.5" r="6.5" fill="#db0000"/>
<circle cx="1021.3" cy="215.8" r="6.5" fill="#db0000"/>
<circle cx="1040.0" cy="219.3" r="6.5" fill="#db0000"/>
<circle cx="1061.3" cy="214.0" r="6.5" fill="#db0000"/>
<circle cx="963.3" cy="223.3" r="6.5" fill="#db0000"/>
<circle cx="967.0" cy="222.9" r="6.5" fill="#db0000"/>
<circle cx="964.4" cy="238.9" r="6.5" fill="#db0000"/>
<circle cx="972.8" cy="244.6" r="6.5" fill="#db0000"/>
<circle cx="987.2" cy="242.8" r="6.5" fill="#db0000"/>
<circle cx="977.4" cy="258.7" r="6.5" fill="#db0000"/>
<circle cx="986.5" cy="256.1" r="6.5" fill="#db0000"/>
<circle cx="1001.4" cy="232.8" r="6.5" fill="#db0000"/>
<circle cx="998.2" cy="227.2" r="6.5" fill="#db0000"/>
<circle cx="1020.5" cy="229.8" r="6.5" fill="#db0000"/>
<circle cx="1009.6" cy="227.9" r="6.5" fill="#db0000"/>
<circle cx="1037.7" cy="228.3" r="6.5" fill="#db0000"/>
<circle cx="1031.2" cy="234.4" r="6.5" fill="#db0000"/>
<circle cx="1050.6" cy="230.5" r="6.5" fill="#db0000"/>
<circle cx="1060.2" cy="228.3" r="6.5" fill="#db0000"/>
<circle cx="1019.7" cy="245.8" r="6.5" fill="#db0000"/>
<circle cx="1014.0" cy="239.7" r="6.5" fill="#db0000"/>
<circle cx="1006.0" cy="244.2" r="6.5" fill="#db0000"/>
<circle cx="1006.8" cy="251.8" r="6.5" fill="#db0000"/>
<circle cx="1029.3" cy="251.8" r="6.5" fill="#db0000"/>
<circle cx="1052.9" cy="244.6" r="6.5" fill="#db0000"/>
<circle cx="1043.8" cy="248.1" r="6.5" fill="#db0000"/>
<circle cx="1040.0" cy="255.7" r="6.5" fill="#db0000"/>
<circle cx="1051.4" cy="256.5" r="6.5" fill="#db0000"/>
<circle cx="991.2" cy="262.5" r="6.5" fill="#db0000"/>
<circle cx="998.4" cy="268.2" r="6.5" fill="#db0000"/>
<circle cx="982.0" cy="268.6" r="6.5" fill="#db0000"/>
<circle cx="975.4" cy="272.0" r="6.5" fill="#db0000"/>
<circle cx="973.3" cy="284.3" r="6.5" fill="#db0000"/>
<circle cx="1017.8" cy="259.8" r="6.5" fill="#db0000"/>
<circle cx="1024.6" cy="261.3" r="6.5" fill="#db0000"/>
<circle cx="1034.6" cy="265.5" r="6.5" fill="#db0000"/>
<circle cx="1027.4" cy="272.3" r="6.5" fill="#db0000"/>
<circle cx="1020.1" cy="280.7" r="6.5" fill="#db0000"/>
<circle cx="1012.5" cy="276.2" r="6.5" fill="#db0000"/>
<circle cx="1007.8" cy="285.0" r="6.5" fill="#db0000"/>
<circle cx="1038.1" cy="278.1" r="6.5" fill="#db0000"/>
<circle cx="1046.1" cy="274.6" r="6.5" fill="#db0000"/>
<circle cx="1048.4" cy="267.8" r="6.5" fill="#db0000"/>
<circle cx="1055.6" cy="275.0" r="6.5" fill="#db0000"/>
<circle cx="1041.4" cy="286.1" r="6.5" fill="#db0000"/>
<circle cx="1036.9" cy="289.5" r="6.5" fill="#0000f2"/>
<circle cx="1032.3" cy="297.6" r="6.5" fill="#0000f2"/>
<circle cx="1049.3" cy="297.6" r="6.5" fill="#db0000"/>
<circle cx="1068.7" cy="291.1" r="6.5" fill="#db0000"/>
<circle cx="1034.6" cy="307.5" r="6.5" fill="#0000f2"/>
<circle cx="990.2" cy="308.9" r="6.5" fill="#db0000"/>
<circle cx="984.5" cy="314.4" r="6.5" fill="#db0000"/>
<circle cx="1024.4" cy="313.2" r="6.5" fill="#db0000"/>
<circle cx="1007.9" cy="320.7" r="6.5" fill="#db0000"/>
<circle cx="1037.9" cy="322.3" r="6.5" fill="#db0000"/>
<circle cx="1052.3" cy="324.3" r="6.5" fill="#0000f2"/>
<circle cx="1068.7" cy="335.8" r="6.5" fill="#0000f2"/>
<circle cx="1003.3" cy="355.9" r="6.5" fill="#0000f2"/>
<circle cx="1017.0" cy="353.4" r="6.5" fill="#0000f2"/>
<circle cx="1020.6" cy="366.0" r="6.5" fill="#0000f2"/>
<circle cx="1020.6" cy="374.7" r="6.5" fill="#0000f2"/>
<circle cx="1035.1" cy="359.2" r="6.5" fill="#0000f2"/>
<circle cx="1068.6" cy="347.0" r="6.5" fill="#0000f2"/>
<circle cx="1082.4" cy="344.7" r="6.5" fill="#0000f2"/>
<circle cx="1097.7" cy="350.1" r="6.5" fill="#0000f2"/>
<circle cx="1077.6" cy="365.2" r="6.5" fill="#0000f2"/>
<circle cx="1095.4" cy="369.1" r="6.5" fill="#0000f2"/>
<circle cx="1088.3" cy="364.3" r="6.5" fill="#0000f2"/>
<circle cx="1086.2" cy="367.6" r="6.5" fill="#0000f2"/>
<circle cx="1110.1" cy="365.7" r="6.5" fill="#0000f2"/>
<circle cx="1114.8" cy="337.8" r="6.5" fill="#db0000"/>
<circle cx="1105.6" cy="392.0" r="6.5" fill="#0000f2"/>
<circle cx="1070.2" cy="397.3" r="6.5" fill="#0000f2"/>
<circle cx="978.9" cy="400.3" r="6.5" fill="#0000f2"/>
<circle cx="978.1" cy="394.2" r="6.5" fill="#0000f2"/>
<circle cx="999.9" cy="411.8" r="6.5" fill="#0000f2"/>
<circle cx="1029.9" cy="436.1" r="6.5" fill="#0000f2"/>
<circle cx="1205.5" cy="55.7" r="6.5" fill="#db0000"/>
<circle cx="1200.7" cy="125.5" r="6.5" fill="#db0000"/>
<circle cx="1166.5" cy="148.4" r="6.5" fill="#db0000"/>
<circle cx="1173.0" cy="142.0" r="6.5" fill="#db0000"/>
<circle cx="1177.8" cy="144.3" r="6.5" fill="#db0000"/>
<circle cx="1237.1" cy="168.6" r="6.5" fill="#db0000"/>
<circle cx="1124.1" cy="181.9" r="6.5" fill="#db0000"/>
<circle cx="1145.8" cy="191.9" r="6.5" fill="#db0000"/>
<circle cx="1115.7" cy="190.4" r="6.5" fill="#db0000"/>
<circle cx="1112.2" cy="196.4" r="6.5" fill="#db0000"/>
<circle cx="1134.8" cy="198.7" r="6.5" fill="#db0000"/>
<circle cx="1129.0" cy="196.4" r="6.5" fill="#db0000"/>
<circle cx="1107.3" cy="212.4" r="6.5" fill="#db0000"/>
<circle cx="1102.7" cy="205.6" r="6.5" fill="#db0000"/>
<circle cx="1174.1" cy="200.3" r="6.5" fill="#db0000"/>
<circle cx="1267.8" cy="214.3" r="6.5" fill="#db0000"/>
<circle cx="1157.2" cy="223.5" r="6.5" fill="#db0000"/>
<circle cx="1125.1" cy="228.5" r="6.5" fill="#db0000"/>
<circle cx="1132.5" cy="233.0" r="6.5" fill="#db0000"/>
<circle cx="1193.8" cy="236.1" r="6.5" fill="#db0000"/>
<circle cx="1111.9" cy="242.2" r="6.5" fill="#db0000"/>
<circle cx="1118.0" cy="249.5" r="6.5" fill="#db0000"/>
<circle cx="1111.1" cy="251.2" r="6.5" fill="#db0000"/>
<circle cx="1103.0" cy="188.1" r="6.5" fill="#db0000"/>
<circle cx="1091.5" cy="187.6" r="6.5" fill="#db0000"/>
<circle cx="1086.6" cy="195.5" r="6.5" fill="#db0000"/>
<circle cx="1094.7" cy="197.5" r="6.5" fill="#db0000"/>
<circle cx="1098.6" cy="215.4" r="6.5" fill="#db0000"/>
<circle cx="1054.8" cy="219.8" r="6.5" fill="#db0000"/>
<circle cx="1069.2" cy="210.9" r="6.5" fill="#db0000"/>
<circle cx="1067.7" cy="222.4" r="6.5" fill="#db0000"/>
<circle cx="1090.1" cy="217.8" r="6.5" fill="#db0000"/>
<circle cx="1084.6" cy="216.8" r="6.5" fill="#db0000"/>
<circle cx="1078.4" cy="215.8" r="6.5" fill="#db0000"/>
<circle cx="1071.2" cy="234.3" r="6.5" fill="#db0000"/>
<circle cx="1070.0" cy="229.0" r="6.5" fill="#db0000"/>
<circle cx="1055.8" cy="248.3" r="6.5" fill="#db0000"/>
<circle cx="1075.6" cy="247.3" r="6.5" fill="#db0000"/>
<circle cx="1069.7" cy="250.4" r="6.5" fill="#db0000"/>
<circle cx="1068.7" cy="255.3" r="6.5" fill="#db0000"/>
<circle cx="1070.7" cy="263.7" r="6.5" fill="#db0000"/>
<circle cx="1099.3" cy="255.1" r="6.5" fill="#db0000"/>
<circle cx="1108.4" cy="263.2" r="6.5" fill="#db0000"/>
<circle cx="1080.7" cy="269.2" r="6.5" fill="#db0000"/>
<circle cx="1096.5" cy="272.2" r="6.5" fill="#db0000"/>
<circle cx="1087.6" cy="269.7" r="6.5" fill="#db0000"/>
<circle cx="1060.7" cy="272.2" r="6.5" fill="#db0000"/>
<circle cx="1197.3" cy="265.1" r="6.5" fill="#db0000"/>
<circle cx="1068.6" cy="280.2" r="6.5" fill="#db0000"/>
<circle cx="1108.2" cy="277.2" r="6.5" fill="#db0000"/>
<circle cx="1151.3" cy="276.2" r="6.5" fill="#db0000"/>
<circle cx="1093.8" cy="289.4" r="6.5" fill="#db0000"/>
<circle cx="1107.2" cy="296.2" r="6.5" fill="#db0000"/>
<circle cx="1133.7" cy="327.0" r="6.5" fill="#db0000"/>
<circle cx="941.5" cy="135.8" r="6.5" fill="#db0000"/>
<circle cx="909.9" cy="146.1" r="6.5" fill="#db0000"/>
<circle cx="952.2" cy="154.8" r="6.5" fill="#db0000"/>
<circle cx="959.8" cy="147.7" r="6.5" fill="#db0000"/>
<circle cx="926.2" cy="154.0" r="6.5" fill="#db0000"/>
<circle cx="921.4" cy="162.4" r="6.5" fill="#db0000"/>
<circle cx="934.6" cy="165.9" r="6.5" fill="#db0000"/>
<circle cx="940.3" cy="159.0" r="6.5" fill="#db0000"/>
<circle cx="827.8" cy="157.3" r="6.5" fill="#db0000"/>
<circle cx="857.1" cy="156.5" r="6.5" fill="#db0000"/>
<circle cx="862.9" cy="167.1" r="6.5" fill="#db0000"/>
<circle cx="911.0" cy="167.1" r="6.5" fill="#db0000"/>
<circle cx="884.3" cy="171.4" r="6.5" fill="#db0000"/>
<circle cx="874.0" cy="171.0" r="6.5" fill="#db0000"/>
<circle cx="874.4" cy="178.3" r="6.5" fill="#db0000"/>
<circle cx="890.8" cy="179.8" r="6.5" fill="#db0000"/>
<circle cx="901.8" cy="172.6" r="6.5" fill="#db0000"/>
<circle cx="909.1" cy="179.4" r="6.5" fill="#db0000"/>
<circle cx="901.4" cy="179.8" r="6.5" fill="#db0000"/>
<circle cx="916.8" cy="174.0" r="6.5" fill="#db0000"/>
<circle cx="925.1" cy="190.0" r="6.5" fill="#db0000"/>
<circle cx="926.8" cy="173.6" r="6.5" fill="#db0000"/>
<circle cx="945.0" cy="186.7" r="6.5" fill="#db0000"/>
<circle cx="933.9" cy="186.3" r="6.5" fill="#db0000"/>
<circle cx="955.7" cy="185.5" r="6.5" fill="#db0000"/>
<circle cx="867.1" cy="189.6" r="6.5" fill="#db0000"/>
<circle cx="894.6" cy="190.8" r="6.5" fill="#db0000"/>
<circle cx="900.7" cy="190.4" r="6.5" fill="#db0000"/>
<circle cx="911.0" cy="189.3" r="6.5" fill="#db0000"/>
<circle cx="936.6" cy="193.9" r="6.5" fill="#db0000"/>
<circle cx="875.5" cy="199.2" r="6.5" fill="#db0000"/>
<circle cx="884.6" cy="197.6" r="6.5" fill="#db0000"/>
<circle cx="918.2" cy="197.6" r="6.5" fill="#db0000"/>
<circle cx="942.6" cy="200.7" r="6.5" fill="#db0000"/>
<circle cx="931.3" cy="200.0" r="6.5" fill="#db0000"/>
<circle cx="950.3" cy="197.6" r="6.5" fill="#db0000"/>
<circle cx="958.0" cy="196.9" r="6.5" fill="#db0000"/>
<circle cx="894.6" cy="199.2" r="6.5" fill="#db0000"/>
<circle cx="900.7" cy="203.2" r="6.5" fill="#db0000"/>
<circle cx="903.0" cy="207.8" r="6.5" fill="#db0000"/>
<circle cx="905.7" cy="213.1" r="6.5" fill="#db0000"/>
<circle cx="913.7" cy="204.7" r="6.5" fill="#db0000"/>
<circle cx="916.0" cy="211.2" r="6.5" fill="#db0000"/>
<circle cx="936.2" cy="208.5" r="6.5" fill="#db0000"/>
<circle cx="940.4" cy="206.3" r="6.5" fill="#db0000"/>
<circle cx="931.3" cy="219.6" r="6.5" fill="#db0000"/>
<circle cx="936.2" cy="218.1" r="6.5" fill="#db0000"/>
<circle cx="948.4" cy="215.1" r="6.5" fill="#db0000"/>
<circle cx="868.6" cy="223.0" r="6.5" fill="#db0000"/>
<circle cx="864.5" cy="215.5" r="6.5" fill="#db0000"/>
<circle cx="896.9" cy="226.5" r="6.5" fill="#db0000"/>
<circle cx="913.7" cy="226.5" r="6.5" fill="#db0000"/>
<circle cx="951.8" cy="226.1" r="6.5" fill="#db0000"/>
<circle cx="893.4" cy="234.5" r="6.5" fill="#db0000"/>
<circle cx="919.4" cy="237.8" r="6.5" fill="#db0000"/>
<circle cx="874.4" cy="210.1" r="6.5" fill="#db0000"/>
<circle cx="884.0" cy="216.0" r="6.5" fill="#db0000"/>
<circle cx="880.1" cy="228.0" r="6.5" fill="#db0000"/>
<circle cx="897.3" cy="216.9" r="6.5" fill="#db0000"/>
<circle cx="905.9" cy="223.8" r="6.5" fill="#db0000"/>
<circle cx="925.7" cy="206.9" r="6.5" fill="#db0000"/>
<circle cx="922.9" cy="225.3" r="6.5" fill="#db0000"/>
<circle cx="942.3" cy="222.3" r="6.5" fill="#db0000"/>
<circle cx="931.3" cy="235.2" r="6.5" fill="#db0000"/>
<circle cx="908.0" cy="236.0" r="6.5" fill="#db0000"/>
<circle cx="949.6" cy="237.8" r="6.5" fill="#db0000"/>
<circle cx="867.1" cy="236.8" r="6.5" fill="#db0000"/>
<circle cx="874.0" cy="236.6" r="6.5" fill="#db0000"/>
<circle cx="882.8" cy="240.4" r="6.5" fill="#db0000"/>
<circle cx="878.2" cy="251.0" r="6.5" fill="#db0000"/>
<circle cx="874.4" cy="247.6" r="6.5" fill="#db0000"/>
<circle cx="865.3" cy="256.8" r="6.5" fill="#db0000"/>
<circle cx="866.4" cy="270.5" r="6.5" fill="#db0000"/>
<circle cx="916.6" cy="245.3" r="6.5" fill="#db0000"/>
<circle cx="928.2" cy="241.6" r="6.5" fill="#db0000"/>
<circle cx="940.4" cy="240.0" r="6.5" fill="#db0000"/>
<circle cx="939.6" cy="251.4" r="6.5" fill="#db0000"/>
<circle cx="947.3" cy="247.6" r="6.5" fill="#db0000"/>
<circle cx="930.7" cy="251.4" r="6.5" fill="#db0000"/>
<circle cx="898.4" cy="265.9" r="6.5" fill="#db0000"/>
<circle cx="904.1" cy="263.3" r="6.5" fill="#db0000"/>
<circle cx="919.5" cy="261.2" r="6.5" fill="#db0000"/>
<circle cx="940.4" cy="261.3" r="6.5" fill="#db0000"/>
<circle cx="947.3" cy="256.8" r="6.5" fill="#db0000"/>
<circle cx="956.8" cy="251.4" r="6.5" fill="#db0000"/>
<circle cx="935.8" cy="269.0" r="6.5" fill="#db0000"/>
<circle cx="951.8" cy="271.3" r="6.5" fill="#db0000"/>
<circle cx="942.6" cy="269.7" r="6.5" fill="#db0000"/>
<circle cx="853.8" cy="271.4" r="6.5" fill="#db0000"/>
<circle cx="856.3" cy="286.3" r="6.5" fill="#db0000"/>
<circle cx="864.9" cy="283.3" r="6.5" fill="#db0000"/>
<circle cx="864.2" cy="295.7" r="6.5" fill="#db0000"/>
<circle cx="887.7" cy="288.2" r="6.5" fill="#db0000"/>
<circle cx="905.9" cy="287.2" r="6.5" fill="#db0000"/>
<circle cx="926.2" cy="289.9" r="6.5" fill="#db0000"/>
<circle cx="940.9" cy="279.4" r="6.5" fill="#db0000"/>
<circle cx="750.6" cy="211.1" r="6.5" fill="#db0000"/>
<circle cx="774.8" cy="222.0" r="6.5" fill="#db0000"/>
<circle cx="782.8" cy="218.5" r="6.5" fill="#db0000"/>
<circle cx="802.1" cy="219.1" r="6.5" fill="#db0000"/>
<circle cx="818.9" cy="192.4" r="6.5" fill="#db0000"/>
<circle cx="818.9" cy="204.3" r="6.5" fill="#db0000"/>
<circle cx="834.0" cy="175.3" r="6.5" fill="#db0000"/>
<circle cx="831.7" cy="191.2" r="6.5" fill="#db0000"/>
<circle cx="838.0" cy="186.5" r="6.5" fill="#db0000"/>
<circle cx="844.2" cy="198.6" r="6.5" fill="#db0000"/>
<circle cx="834.0" cy="201.8" r="6.5" fill="#db0000"/>
<circle cx="845.1" cy="210.0" r="6.5" fill="#db0000"/>
<circle cx="833.7" cy="215.2" r="6.5" fill="#db0000"/>
<circle cx="860.7" cy="195.8" r="6.5" fill="#db0000"/>
<circle cx="859.0" cy="204.9" r="6.5" fill="#db0000"/>
<circle cx="861.3" cy="215.6" r="6.5" fill="#db0000"/>
<circle cx="852.8" cy="218.5" r="6.5" fill="#db0000"/>
<circle cx="811.8" cy="232.4" r="6.5" fill="#db0000"/>
<circle cx="802.6" cy="229.0" r="6.5" fill="#db0000"/>
<circle cx="795.2" cy="240.4" r="6.5" fill="#db0000"/>
<circle cx="797.5" cy="247.8" r="6.5" fill="#db0000"/>
<circle cx="803.8" cy="243.2" r="6.5" fill="#db0000"/>
<circle cx="845.4" cy="223.3" r="6.5" fill="#db0000"/>
<circle cx="847.1" cy="231.2" r="6.5" fill="#db0000"/>
<circle cx="859.0" cy="228.5" r="6.5" fill="#db0000"/>
<circle cx="836.8" cy="243.8" r="6.5" fill="#db0000"/>
<circle cx="844.2" cy="239.8" r="6.5" fill="#db0000"/>
<circle cx="853.3" cy="245.4" r="6.5" fill="#db0000"/>
<circle cx="846.3" cy="248.3" r="6.5" fill="#db0000"/>
<circle cx="833.5" cy="263.7" r="6.5" fill="#db0000"/>
<circle cx="841.4" cy="258.5" r="6.5" fill="#db0000"/>
<circle cx="834.0" cy="255.7" r="6.5" fill="#db0000"/>
<circle cx="856.2" cy="258.0" r="6.5" fill="#db0000"/>
<circle cx="856.8" cy="263.1" r="6.5" fill="#db0000"/>
<circle cx="864.8" cy="248.3" r="6.5" fill="#db0000"/>
<circle cx="818.0" cy="265.3" r="6.5" fill="#db0000"/>
<circle cx="817.5" cy="276.8" r="6.5" fill="#db0000"/>
<circle cx="752.9" cy="295.9" r="6.5" fill="#db0000"/>
<circle cx="795.2" cy="280.5" r="6.5" fill="#db0000"/>
<circle cx="834.1" cy="289.7" r="6.5" fill="#db0000"/>
<circle cx="844.8" cy="292.5" r="6.5" fill="#db0000"/>
<circle cx="849.1" cy="301.9" r="6.5" fill="#0000f2"/>
<circle cx="843.2" cy="301.6" r="6.5" fill="#0000f2"/>
<circle cx="829.2" cy="306.2" r="6.5" fill="#db0000"/>
<circle cx="905.0" cy="344.0" r="6.5" fill="#0000f2"/>
<circle cx="932.7" cy="364.4" r="6.5" fill="#0000f2"/>
<circle cx="949.1" cy="333.6" r="6.5" fill="#db0000"/>
<circle cx="946.4" cy="372.7" r="6.5" fill="#0000f2"/>
<circle cx="913.6" cy="389.2" r="6.5" fill="#db0000"/>
<circle cx="996.5" cy="131.1" r="6.5" fill="#0000f2"/>
<circle cx="1002.6" cy="197.8" r="6.5" fill="#0000f2"/>
<circle cx="1043.0" cy="240.9" r="6.5" fill="#0000f2"/>
<circle cx="971.1" cy="283.2" r="6.5" fill="#0000f2"/>
<circle cx="1004.1" cy="335.1" r="6.5" fill="#0000f2"/>
<circle cx="999.1" cy="333.1" r="6.5" fill="#0000f2"/>
<circle cx="894.7" cy="333.6" r="6.5" fill="#0000f2"/>
<circle cx="886.9" cy="335.1" r="6.5" fill="#0000f2"/>
<circle cx="905.2" cy="340.1" r="6.5" fill="#0000f2"/>
<circle cx="898.4" cy="341.6" r="6.5" fill="#0000f2"/>
<circle cx="916.3" cy="350.2" r="6.5" fill="#0000f2"/>
<circle cx="910.0" cy="348.2" r="6.5" fill="#0000f2"/>
<circle cx="928.9" cy="353.2" r="6.5" fill="#0000f2"/>
<circle cx="935.9" cy="360.7" r="6.5" fill="#0000f2"/>
<circle cx="922.3" cy="366.2" r="6.5" fill="#0000f2"/>
<circle cx="924.1" cy="360.2" r="6.5" fill="#0000f2"/>
<circle cx="959.0" cy="366.8" r="6.5" fill="#0000f2"/>
<circle cx="939.4" cy="369.3" r="6.5" fill="#0000f2"/>
<circle cx="943.5" cy="371.3" r="6.5" fill="#0000f2"/>
<circle cx="952.0" cy="371.3" r="6.5" fill="#0000f2"/>
<circle cx="951.0" cy="323.0" r="6.5" fill="#0000f2"/>
<circle cx="963.1" cy="334.6" r="6.5" fill="#0000f2"/>
<circle cx="972.6" cy="332.1" r="6.5" fill="#0000f2"/>
<circle cx="983.7" cy="323.0" r="6.5" fill="#0000f2"/>
<circle cx="982.7" cy="343.1" r="6.5" fill="#0000f2"/>
<circle cx="977.1" cy="336.6" r="6.5" fill="#0000f2"/>
<circle cx="983.7" cy="333.1" r="6.5" fill="#0000f2"/>
<circle cx="957.0" cy="349.2" r="6.5" fill="#0000f2"/>
<circle cx="949.8" cy="352.7" r="6.5" fill="#0000f2"/>
<circle cx="967.6" cy="351.2" r="6.5" fill="#0000f2"/>
<circle cx="978.6" cy="351.2" r="6.5" fill="#0000f2"/>
<circle cx="957.3" cy="380.6" r="6.5" fill="#0000f2"/>
<circle cx="950.6" cy="381.1" r="6.5" fill="#0000f2"/>
<circle cx="902.5" cy="384.1" r="6.5" fill="#0000f2"/>
<circle cx="1018.4" cy="296.6" r="6.5" fill="#0000f2"/>
<circle cx="1010.9" cy="292.6" r="6.5" fill="#0000f2"/>
<circle cx="1035.0" cy="313.7" r="6.5" fill="#0000f2"/>
<circle cx="1061.2" cy="299.1" r="6.5" fill="#0000f2"/>
<circle cx="1016.4" cy="320.7" r="6.5" fill="#0000f2"/>
<circle cx="1024.5" cy="319.2" r="6.5" fill="#0000f2"/>
<circle cx="1041.0" cy="323.3" r="6.5" fill="#0000f2"/>
<circle cx="965.6" cy="315.2" r="6.5" fill="#0000f2"/>
<circle cx="978.7" cy="314.2" r="6.5" fill="#0000f2"/>
<circle cx="1003.8" cy="315.2" r="6.5" fill="#0000f2"/>
<circle cx="995.3" cy="318.2" r="6.5" fill="#0000f2"/>
<circle cx="994.8" cy="323.3" r="6.5" fill="#0000f2"/>
<circle cx="991.3" cy="331.1" r="6.5" fill="#0000f2"/>
<circle cx="921.7" cy="182.4" r="6.5" fill="#0000f2"/>
<circle cx="993.5" cy="228.5" r="6.5" fill="#0000f2"/>
<circle cx="1077.0" cy="120.6" r="6.5" fill="#0000f2"/>
<circle cx="1100.8" cy="194.0" r="6.5" fill="#0000f2"/>
<circle cx="908.2" cy="247.1" r="6.5" fill="#0000f2"/>
<circle cx="959.2" cy="242.5" r="6.5" fill="#0000f2"/>
<circle cx="1060.0" cy="265.7" r="6.5" fill="#0000f2"/>
</g></g>
<rect x="718.8" y="21.1" width="578.5" height="450.7" fill="none" stroke="#505050" stroke-width="1.5"/>
<g stroke="#444" stroke-width="1.3">
<line x1="721.4" y1="472.5" x2="721.4" y2="475.8"/>
<line x1="786.8" y1="472.5" x2="786.8" y2="475.8"/>
<line x1="852.2" y1="472.5" x2="852.2" y2="475.8"/>
<line x1="917.6" y1="472.5" x2="917.6" y2="475.8"/>
<line x1="983.0" y1="472.5" x2="983.0" y2="475.8"/>
<line x1="1048.5" y1="472.5" x2="1048.5" y2="475.8"/>
<line x1="1113.9" y1="472.5" x2="1113.9" y2="475.8"/>
<line x1="1179.3" y1="472.5" x2="1179.3" y2="475.8"/>
<line x1="1244.7" y1="472.5" x2="1244.7" y2="475.8"/>
<line x1="714.7" y1="425.2" x2="718.0" y2="425.2"/>
<line x1="714.7" y1="354.1" x2="718.0" y2="354.1"/>
<line x1="714.7" y1="283.0" x2="718.0" y2="283.0"/>
<line x1="714.7" y1="211.9" x2="718.0" y2="211.9"/>
<line x1="714.7" y1="140.8" x2="718.0" y2="140.8"/>
<line x1="714.7" y1="69.7" x2="718.0" y2="69.7"/>
</g>
<g font-family="'Liberation Serif',serif" font-size="30.2" fill="#000">
<text x="721.7" y="499.2" text-anchor="middle">−4</text>
<text x="787.1" y="499.2" text-anchor="middle">−3</text>
<text x="852.5" y="499.2" text-anchor="middle">−2</text>
<text x="917.9" y="499.2" text-anchor="middle">−1</text>
<text x="983.0" y="499.2" text-anchor="middle">0</text>
<text x="1048.5" y="499.2" text-anchor="middle">1</text>
<text x="1113.9" y="499.2" text-anchor="middle">2</text>
<text x="1179.3" y="499.2" text-anchor="middle">3</text>
<text x="1244.7" y="499.2" text-anchor="middle">4</text>
<text x="710.4" y="435.0" text-anchor="end">−2</text>
<text x="710.4" y="363.9" text-anchor="end">−1</text>
<text x="710.4" y="292.8" text-anchor="end">0</text>
<text x="710.4" y="221.7" text-anchor="end">1</text>
<text x="710.4" y="150.6" text-anchor="end">2</text>
<text x="710.4" y="79.5" text-anchor="end">3</text>
</g>
<g font-family="'Liberation Serif',serif" font-size="30.5" font-weight="bold" font-style="italic" fill="#000">
<text transform="translate(1006.2,535.6) scale(1.18,1)" text-anchor="middle">f1</text>
<text transform="translate(690.7,243.9) rotate(-90) scale(1.18,1)" text-anchor="middle">f2</text>
</g>
<text x="663.1" y="32.5" font-family="'Liberation Sans',sans-serif" font-size="43.8" font-weight="bold" fill="#000">B</text>
</svg></body></html>
